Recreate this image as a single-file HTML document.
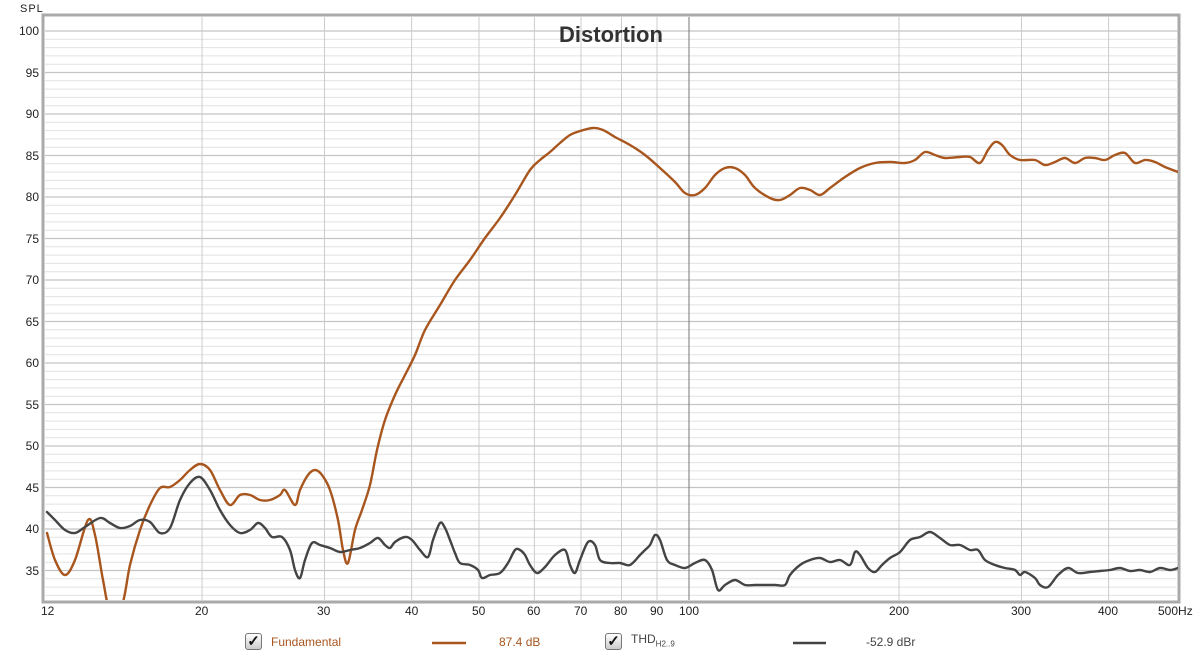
<!DOCTYPE html><html><head><style>
body{margin:0;width:1200px;height:660px;background:#fff;font-family:"Liberation Sans",Arial,sans-serif;overflow:hidden;position:relative}
.t{position:absolute;font-size:12px;color:#222}
.yl{position:absolute;left:0;width:39px;text-align:right;font-size:12px;color:#222}
.cb{position:absolute;top:633px;width:15px;height:15px;border:1px solid #777;border-radius:3px;background:linear-gradient(#fff,#ccc);font-size:15px;line-height:15px;text-align:center;font-weight:bold;color:#111}
</style></head><body>
<div class="t" style="left:20px;top:3px;font-size:11px;letter-spacing:1px">SPL</div>
<svg width="1200" height="660" style="position:absolute;left:0;top:0">
<rect x="43" y="15" width="1136" height="587" fill="none" stroke="#aaa" stroke-width="3"/>
<g id="h"></g>
<g stroke="#ccc" stroke-width="1">
<line x1="202" y1="17" x2="202" y2="600"/><line x1="324.5" y1="17" x2="324.5" y2="600"/><line x1="411.6" y1="17" x2="411.6" y2="600"/><line x1="479" y1="17" x2="479" y2="600"/><line x1="534.4" y1="17" x2="534.4" y2="600"/><line x1="581" y1="17" x2="581" y2="600"/><line x1="621.5" y1="17" x2="621.5" y2="600"/><line x1="657" y1="17" x2="657" y2="600"/><line x1="899" y1="17" x2="899" y2="600"/><line x1="1021.5" y1="17" x2="1021.5" y2="600"/><line x1="1108.6" y1="17" x2="1108.6" y2="600"/>
</g>
<line x1="689" y1="17" x2="689" y2="600" stroke="#777"/>
<clipPath id="c"><rect x="45" y="17" width="1133" height="583"/></clipPath>
<g clip-path="url(#c)" fill="none" stroke-width="2.4" stroke-linejoin="round" stroke-linecap="round">
<polyline class="sm" stroke="#a8561e" points="47,533 55,560 65,575 75,560 88,520 95,535 103,580 110,610 122,605 130,565 140,530 150,505 160,488 170,487 180,480 190,470 200,464 210,470 220,490 230,505 240,495 250,495 260,500 270,500 280,495 285,490 295,505 300,490 308,475 315,470 322,475 330,490 338,520 343,550 348,563 355,530 362,510 370,485 377,450 385,420 395,395 405,375 415,355 425,330 440,305 455,280 470,260 485,238 500,218 515,195 530,170 540,160 550,152 560,143 570,135 580,131 593,128 603,130 615,137 630,145 645,155 660,168 675,182 685,193 695,195 705,188 715,175 725,168 735,168 745,175 755,188 770,198 780,200 790,195 800,188 810,190 820,195 830,188 845,177 860,168 875,163 890,162 905,163 915,160 925,152 935,155 945,158 960,157 970,157 980,163 988,150 995,142 1002,145 1010,155 1020,160 1035,160 1045,165 1055,162 1065,158 1075,163 1085,158 1095,158 1105,160 1115,155 1125,153 1135,163 1145,160 1155,162 1165,167 1178,172"/>
<polyline class="sm" stroke="#444" points="47,512 55,520 65,530 75,533 85,527 100,518 110,523 120,528 130,526 140,520 150,522 160,533 170,528 180,500 190,483 200,477 210,490 220,510 230,525 240,533 250,530 258,523 265,528 272,537 282,537 290,550 295,570 300,578 305,560 312,543 320,545 330,548 340,552 350,550 360,548 370,543 378,538 385,545 390,548 395,542 405,537 412,540 420,550 428,557 433,540 440,523 445,528 450,540 455,553 460,563 470,565 478,570 482,578 490,575 500,573 508,563 515,550 520,550 525,555 530,565 537,573 545,567 555,555 565,550 570,565 575,573 580,560 588,542 595,545 600,560 610,563 620,563 630,565 640,555 645,550 650,545 655,535 660,540 667,560 675,565 685,568 695,563 705,560 712,570 718,590 725,585 735,580 745,585 755,585 765,585 775,585 785,585 790,575 800,565 810,560 820,558 830,562 840,560 850,565 855,552 860,555 868,568 875,572 882,565 890,558 900,552 910,540 920,537 930,532 940,538 950,545 960,545 970,550 978,550 985,560 995,565 1005,568 1015,570 1020,575 1025,572 1035,578 1040,585 1048,587 1058,575 1068,568 1078,573 1090,572 1100,571 1110,570 1120,568 1130,571 1140,570 1150,572 1160,568 1170,570 1178,568"/>
</g>
<text x="611" y="42" text-anchor="middle" font-family="Liberation Sans" font-weight="bold" font-size="22" fill="#333">Distortion</text>
<line x1="432" y1="643" x2="466" y2="643" stroke="#a8561e" stroke-width="2.5"/>
<line x1="793" y1="643" x2="826" y2="643" stroke="#444" stroke-width="2.5"/>
</svg>
<script>
var g=document.getElementById('h'),s='';
for(var d=31;d<=100;d++){var y=31+(100-d)*8.3;if(y>600)continue;var m=d%5==0;s+='<line x1="45" x2="1178" y1="'+y+'" y2="'+y+'" stroke="'+(m?'#c4c4c4':'#e2e2e2')+'" stroke-width="'+(m?1.3:1)+'"/>';}
g.innerHTML=s;
document.querySelectorAll('polyline.sm').forEach(function(pl){
var p=pl.getAttribute('points').trim().split(/\s+/).map(function(q){return q.split(',').map(Number)});
var d='M'+p[0][0]+','+p[0][1];
for(var i=0;i<p.length-1;i++){var a=p[i>0?i-1:0],b=p[i],c=p[i+1],e=p[i+2<p.length?i+2:i+1];
d+=' C'+(b[0]+(c[0]-a[0])/6)+','+(b[1]+(c[1]-a[1])/6)+' '+(c[0]-(e[0]-b[0])/6)+','+(c[1]-(e[1]-b[1])/6)+' '+c[0]+','+c[1];}
var path=document.createElementNS('http://www.w3.org/2000/svg','path');
path.setAttribute('d',d);path.setAttribute('stroke',pl.getAttribute('stroke'));
pl.parentNode.replaceChild(path,pl);});
</script>
<div class="yl" style="top:24px">100</div><div class="yl" style="top:66px">95</div><div class="yl" style="top:107px">90</div><div class="yl" style="top:149px">85</div><div class="yl" style="top:190px">80</div><div class="yl" style="top:232px">75</div><div class="yl" style="top:273px">70</div><div class="yl" style="top:315px">65</div><div class="yl" style="top:356px">60</div><div class="yl" style="top:398px">55</div><div class="yl" style="top:439px">50</div><div class="yl" style="top:481px">45</div><div class="yl" style="top:522px">40</div><div class="yl" style="top:564px">35</div>
<div class="t" style="left:41px;top:604px">12</div><div class="t" style="left:195px;top:604px">20</div><div class="t" style="left:317px;top:604px">30</div><div class="t" style="left:405px;top:604px">40</div><div class="t" style="left:472px;top:604px">50</div><div class="t" style="left:527px;top:604px">60</div><div class="t" style="left:574px;top:604px">70</div><div class="t" style="left:614px;top:604px">80</div><div class="t" style="left:650px;top:604px">90</div><div class="t" style="left:679px;top:604px">100</div><div class="t" style="left:889px;top:604px">200</div><div class="t" style="left:1011px;top:604px">300</div><div class="t" style="left:1098px;top:604px">400</div><div class="t" style="left:1158px;top:604px">500Hz</div>
<div class="cb" style="left:245px">✓</div>
<div class="t" style="left:271px;top:635px;color:#a8561e">Fundamental</div>
<div class="t" style="left:499px;top:635px;color:#a8561e">87.4 dB</div>
<div class="cb" style="left:605px">✓</div>
<div class="t" style="left:631px;top:632px;color:#444">THD<sub style="font-size:8px">H2..9</sub></div>
<div class="t" style="left:866px;top:635px;color:#444">-52.9 dBr</div>
</body></html>
